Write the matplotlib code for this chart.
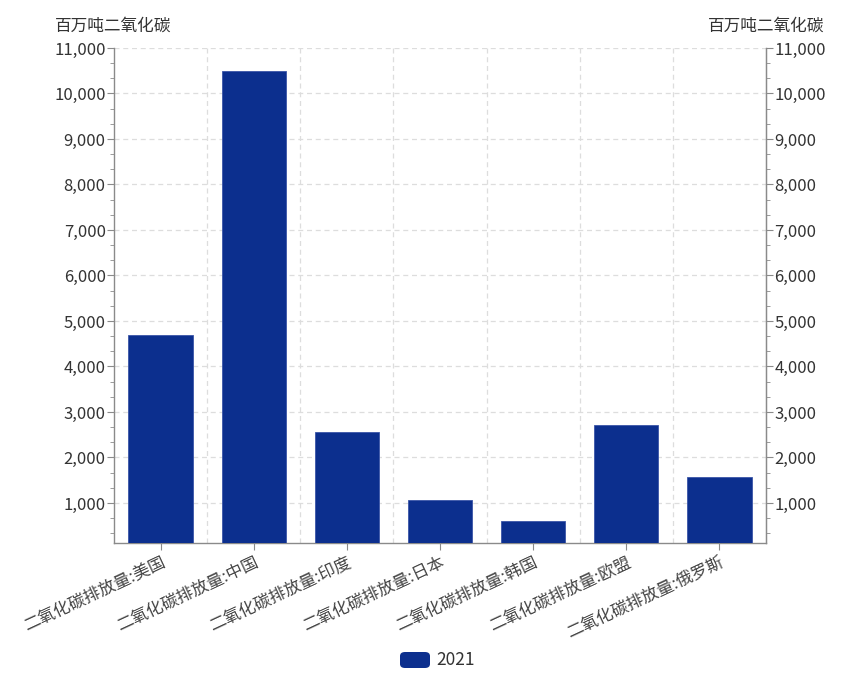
import matplotlib.pyplot as plt
import numpy as np
from matplotlib.patches import FancyBboxPatch
from matplotlib.ticker import MultipleLocator, FuncFormatter

plt.rcParams['font.family'] = ['Noto Sans CJK SC', 'DejaVu Sans']

categories = ["二氧化碳排放量:美国", "二氧化碳排放量:中国", "二氧化碳排放量:印度",
              "二氧化碳排放量:日本", "二氧化碳排放量:韩国", "二氧化碳排放量:欧盟",
              "二氧化碳排放量:俄罗斯"]
values_2021 = [4695, 10500, 2560, 1065, 605, 2715, 1575]
series_name = "2021"
unit = "百万吨二氧化碳"

bar_color = "#0c2f8e"
axis_color = "#8a8a8a"
text_color = "#333333"

fig = plt.figure(figsize=(8.41, 6.75), dpi=100)
ax = fig.add_axes([114 / 841, 1 - 543 / 675, (766 - 114) / 841, (543 - 48) / 675])

x = np.arange(len(categories))
ax.bar(x, values_2021, width=0.69, color=bar_color, edgecolor="#3a55a8", linewidth=0.6, zorder=3)

ax.set_xlim(-0.5, len(categories) - 0.5)
ax.set_ylim(120, 11000)
ax.yaxis.set_major_locator(MultipleLocator(1000))
ax.yaxis.set_minor_locator(MultipleLocator(1000 / 3))
fmt = FuncFormatter(lambda v, p: f"{int(round(v)):,}")
ax.yaxis.set_major_formatter(fmt)

# 网格线
for yv in range(1000, 11001, 1000):
    ax.axhline(yv, color="#dddddd", linestyle=(0, (4, 3)), linewidth=0.9, zorder=1)
for xb in np.arange(0.5, len(categories) - 0.5, 1.0):
    ax.axvline(xb, color="#dddddd", linestyle=(0, (4, 3)), linewidth=0.9, zorder=1)

ax.set_xticks(x)
ax.set_xticklabels(categories, rotation=25, ha="right", rotation_mode="anchor",
                   fontsize=12, color="#444444")

ax.spines["top"].set_visible(False)
for side in ["left", "right", "bottom"]:
    ax.spines[side].set_color(axis_color)
    ax.spines[side].set_linewidth(1.0)

ax.tick_params(axis="x", length=5, color=axis_color, pad=3)
ax.tick_params(axis="y", which="major", length=5, color=axis_color, labelsize=12,
               labelcolor=text_color, pad=1)
ax.tick_params(axis="y", which="minor", length=3, color=axis_color)

ax2 = ax.twinx()
ax2.set_ylim(ax.get_ylim())
ax2.yaxis.set_major_locator(MultipleLocator(1000))
ax2.yaxis.set_minor_locator(MultipleLocator(1000 / 3))
ax2.yaxis.set_major_formatter(fmt)
for side in ["top", "left", "bottom"]:
    ax2.spines[side].set_visible(False)
ax2.spines["right"].set_color(axis_color)
ax2.tick_params(axis="y", which="major", length=5, color=axis_color, labelsize=12,
                labelcolor=text_color, pad=1)
ax2.tick_params(axis="y", which="minor", length=3, color=axis_color)

# 坐标轴名称
fig.text(113 / 841, 1 - 26 / 675, unit, ha="center", va="center", fontsize=12, color=text_color)
fig.text(766 / 841, 1 - 26 / 675, unit, ha="center", va="center", fontsize=12, color=text_color)

# 图例
lx, ly, lw, lh = 400 / 841, 1 - 668 / 675, 30 / 841, 16 / 675
fig.patches.append(FancyBboxPatch((lx, ly), lw, lh, boxstyle="round,pad=0,rounding_size=0.006",
                                  transform=fig.transFigure, facecolor=bar_color, edgecolor="none"))
fig.text(436 / 841, 1 - 660 / 675, series_name, ha="left", va="center", fontsize=12.5, color=text_color)

fig.savefig("out.png", dpi=100)
